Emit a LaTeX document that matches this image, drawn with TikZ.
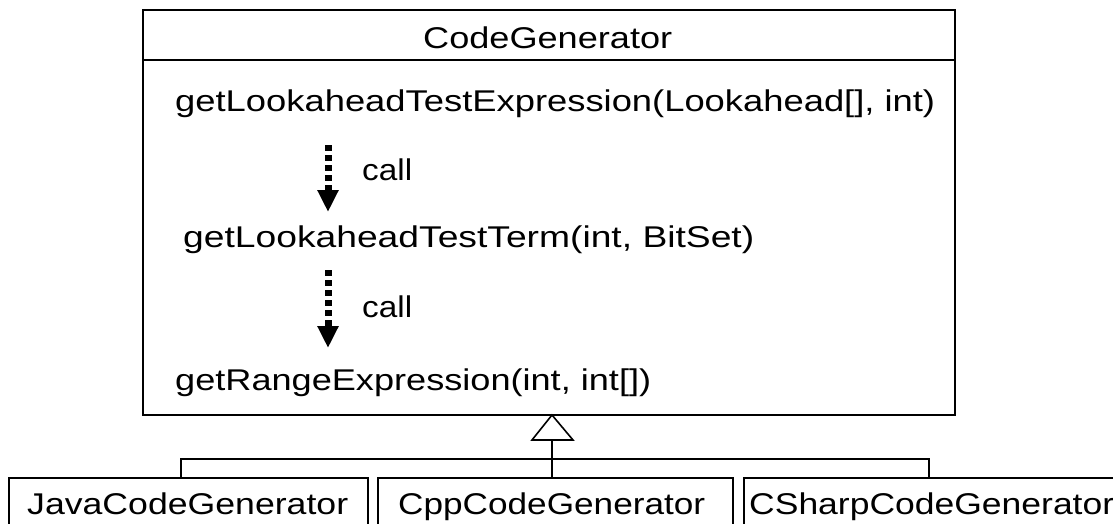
\documentclass[tikz,border=0pt]{standalone}
\usepackage{fontspec}
\setmainfont{Liberation Sans}
\usetikzlibrary{arrows.meta}
\newcommand\fitw[2]{\resizebox{#1pt}{\height}{#2}}
\begin{document}
\begin{tikzpicture}[x=1pt,y=-1pt,
  box/.style={draw,line width=1.6pt,inner sep=0pt},
  txt/.style={anchor=base west,inner sep=0pt,font=\fontsize{30}{36}\selectfont},
  callarrow/.style={line width=7pt,dash pattern=on 6pt off 4pt,-{Triangle[width=20pt,length=22pt]}},
  ln/.style={line width=1.6pt}]
\useasboundingbox (0,0) rectangle (1113,524);
\clip (0,0) rectangle (1113,524);
\fill[white] (0,0) rectangle (1113,524);
% main class box
\node[box,minimum width=812pt,minimum height=405pt] (cg) at (549,212.5) {};
\coordinate (sepy) at (0,60);
\draw[ln] (cg.west |- sepy) -- (cg.east |- sepy);
\node[txt] (title) at (423,49) {\fitw{249}{CodeGenerator}};
\node[txt] (m1) at (175,112) {\fitw{760}{getLookaheadTestExpression(Lookahead[], int)}};
\node[txt] (m2) at (183,247) {\fitw{571}{getLookaheadTestTerm(int, BitSet)}};
\node[txt] (m3) at (175,390) {\fitw{476}{getRangeExpression(int, int[])}};
% call arrows
\coordinate (a1s) at (328,145);
\coordinate (a1e) at (328,212);
\coordinate (a2s) at (328,270);
\coordinate (a2e) at (328,348);
\draw[callarrow] (a1s) -- (a1e);
\draw[callarrow] (a2s) -- (a2e);
\node[txt] (c1) at (362,180) {\fitw{50}{call}};
\node[txt] (c2) at (362,317) {\fitw{50}{call}};
% subclasses
\node[box,minimum width=359pt,minimum height=70pt,anchor=north west] (java) at (8,477) {};
\node[box,minimum width=355pt,minimum height=70pt,anchor=north west] (cpp) at (377,477) {};
\node[box,minimum width=400pt,minimum height=70pt,anchor=north west] (csharp) at (743,477) {};
\node[txt] (javat) at (27,514) {\fitw{321}{JavaCodeGenerator}};
\node[txt] (cppt) at (398,514) {\fitw{307}{CppCodeGenerator}};
\node[txt] (csharpt) at (749,514) {\fitw{365}{CSharpCodeGenerator}};
% generalization
\coordinate (apex) at (552,415);
\coordinate (tbase) at (552,440);
\coordinate (jy) at (0,459);
\coordinate (jl) at (181,459);
\coordinate (jr) at (929,459);
\draw[ln,fill=white,line join=miter] (apex) -- (532,440) -- (573,440) -- cycle;
\draw[ln] (tbase) -- (tbase |- cpp.north);
\draw[ln] (jl |- java.north) -- (jl) -- (jr) -- (jr |- csharp.north);
\end{tikzpicture}
\end{document}
